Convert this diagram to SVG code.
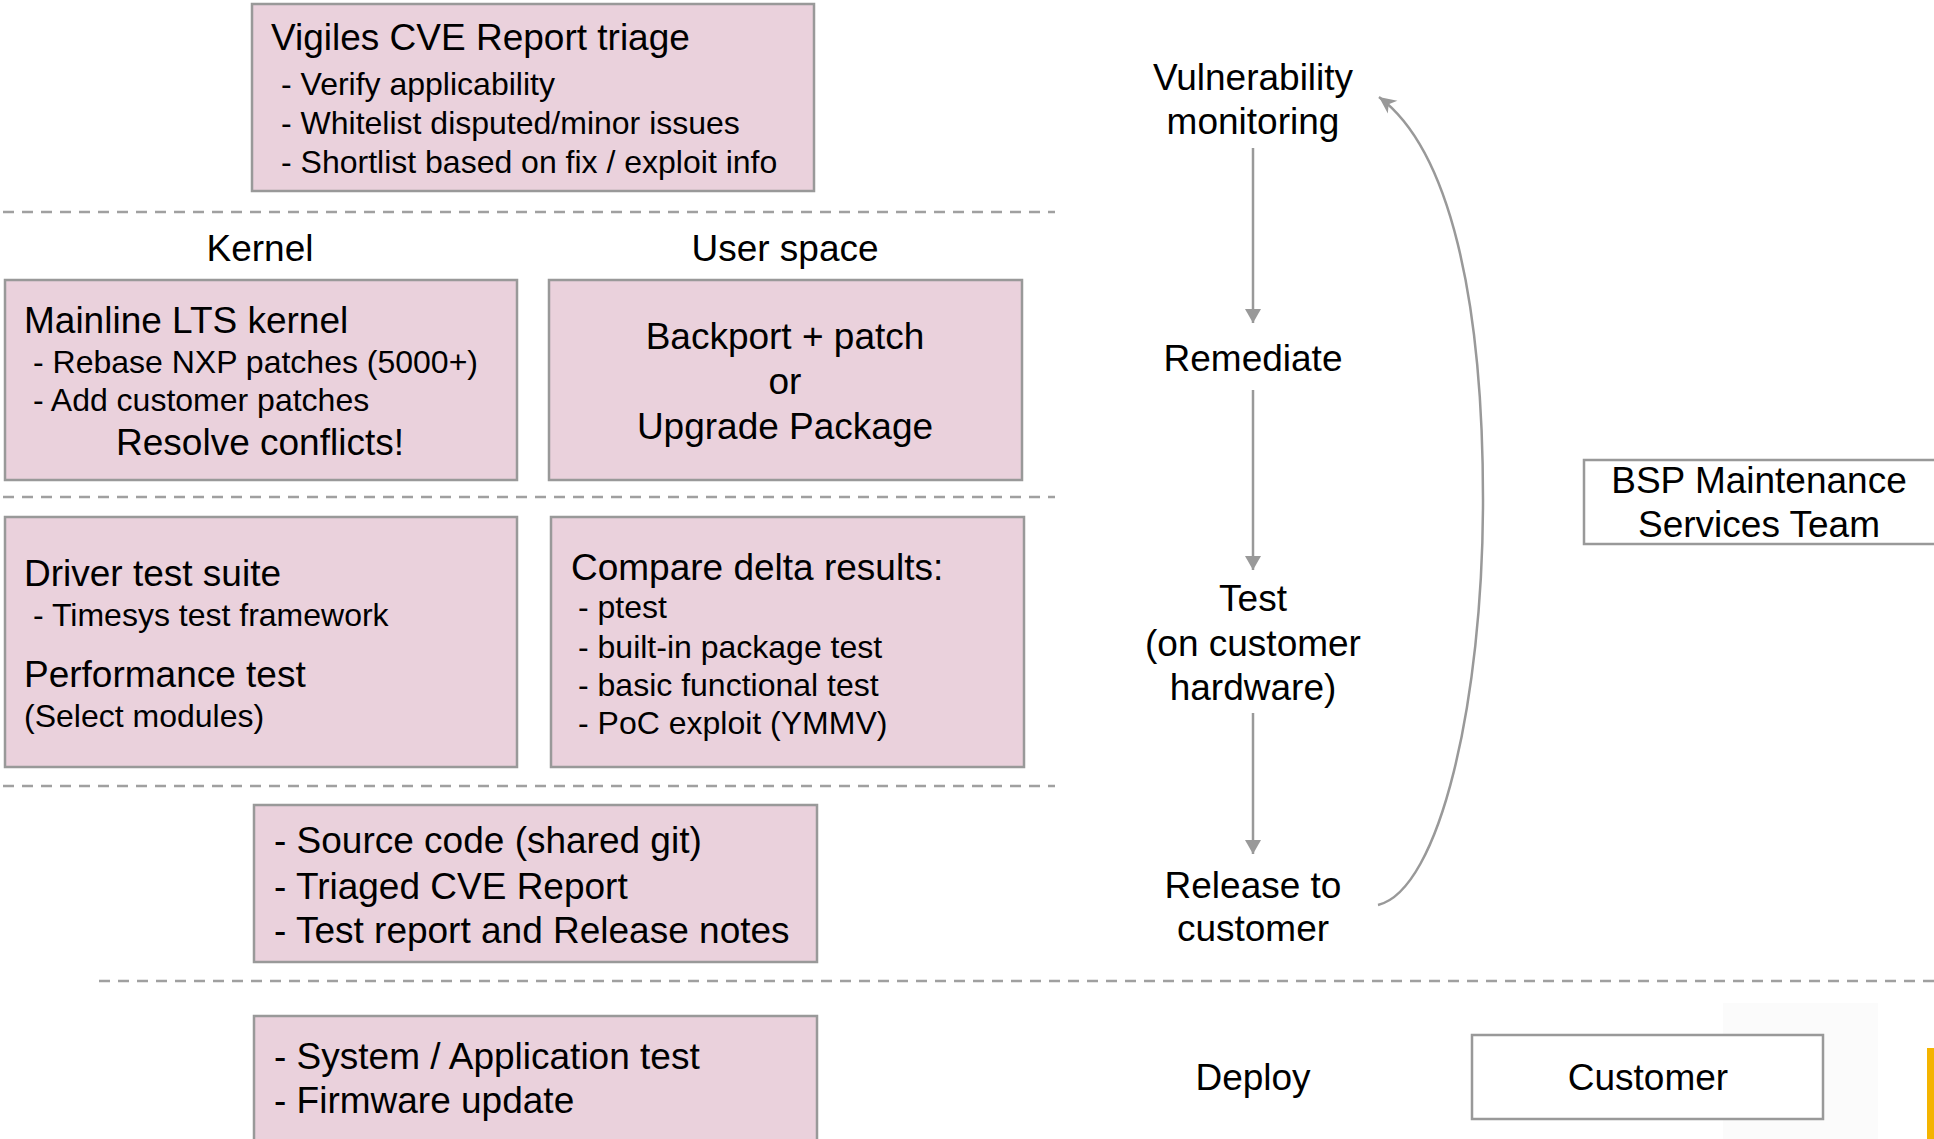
<svg xmlns="http://www.w3.org/2000/svg" width="1934" height="1139" viewBox="0 0 1934 1139">
<defs>
<style>
.box{fill:#ead1dc;stroke:#999;stroke-width:2.5}
.wbox{fill:#fff;stroke:#999;stroke-width:2.5}
.dash{stroke:#a0a0a0;stroke-width:2.5;stroke-dasharray:11 8;fill:none}
.conn{stroke:#999;stroke-width:2.5;fill:none}
text{font-family:"Liberation Sans",Arial,sans-serif;fill:#000}
.L{font-size:37px}
.S{font-size:32px}
.c{text-anchor:middle}
</style>
<marker id="tri" markerUnits="userSpaceOnUse" markerWidth="16" markerHeight="16" refX="14" refY="8" orient="auto">
<path d="M0,0 L14,8 L0,16 z" fill="#999"/>
</marker>
<marker id="open" markerUnits="userSpaceOnUse" markerWidth="20" markerHeight="20" refX="17" refY="9" orient="auto">
<path d="M0,1 L17,9 L0,17 L5,9 z" fill="#999"/>
</marker>
</defs>
<rect width="1934" height="1139" fill="#fff"/>
<rect x="1723" y="1003" width="155" height="136" fill="#fbfbfb"/>
<rect x="1927" y="1048" width="7" height="91" fill="#f4b400"/>

<g id="separators">
<line class="dash" x1="3" y1="212" x2="1055" y2="212"/>
<line class="dash" x1="3" y1="497" x2="1055" y2="497"/>
<line class="dash" x1="3" y1="786" x2="1055" y2="786"/>
<line class="dash" x1="99" y1="981" x2="1934" y2="981"/>
</g>

<g id="triage">
<rect class="box" x="252" y="4" width="562" height="187"/>
<text class="L" x="271" y="50">Vigiles CVE Report triage</text>
<text class="S" x="281" y="95">- Verify applicability</text>
<text class="S" x="281" y="134">- Whitelist disputed/minor issues</text>
<text class="S" x="281" y="173">- Shortlist based on fix / exploit info</text>
</g>

<g id="label-kernel"><text class="L c" x="260" y="261">Kernel</text></g>
<g id="label-userspace"><text class="L c" x="785" y="261">User space</text></g>

<g id="kernel">
<rect class="box" x="5" y="280" width="512" height="200"/>
<text class="L" x="24" y="333">Mainline LTS kernel</text>
<text class="S" x="33" y="373">- Rebase NXP patches (5000+)</text>
<text class="S" x="33" y="411">- Add customer patches</text>
<text class="L c" x="260" y="455">Resolve conflicts!</text>
</g>

<g id="userspace">
<rect class="box" x="549" y="280" width="473" height="200"/>
<text class="L c" x="785" y="349">Backport + patch</text>
<text class="L c" x="785" y="394">or</text>
<text class="L c" x="785" y="439">Upgrade Package</text>
</g>

<g id="driver-test">
<rect class="box" x="5" y="517" width="512" height="250"/>
<text class="L" x="24" y="586">Driver test suite</text>
<text class="S" x="33" y="626">- Timesys test framework</text>
<text class="L" x="24" y="687">Performance test</text>
<text class="S" x="24" y="727">(Select modules)</text>
</g>

<g id="compare">
<rect class="box" x="551" y="517" width="473" height="250"/>
<text class="L" x="571" y="580">Compare delta results:</text>
<text class="S" x="578" y="618">- ptest</text>
<text class="S" x="578" y="658">- built-in package test</text>
<text class="S" x="578" y="696">- basic functional test</text>
<text class="S" x="578" y="734">- PoC exploit (YMMV)</text>
</g>

<g id="release">
<rect class="box" x="254" y="805" width="563" height="157"/>
<text class="L" x="274" y="853">- Source code (shared git)</text>
<text class="L" x="274" y="899">- Triaged CVE Report</text>
<text class="L" x="274" y="943">- Test report and Release notes</text>
</g>

<g id="deploy-box">
<rect class="box" x="254" y="1016" width="563" height="140"/>
<text class="L" x="274" y="1069">- System / Application test</text>
<text class="L" x="274" y="1113">- Firmware update</text>
</g>

<g id="step-monitoring">
<text class="L c" x="1253" y="90">Vulnerability</text>
<text class="L c" x="1253" y="134">monitoring</text>
</g>
<g id="step-remediate"><text class="L c" x="1253" y="371">Remediate</text></g>
<g id="step-test">
<text class="L c" x="1253" y="611">Test</text>
<text class="L c" x="1253" y="656">(on customer</text>
<text class="L c" x="1253" y="700">hardware)</text>
</g>
<g id="step-release">
<text class="L c" x="1253" y="898">Release to</text>
<text class="L c" x="1253" y="941">customer</text>
</g>
<g id="step-deploy"><text class="L c" x="1253" y="1090">Deploy</text></g>

<g id="bsp-team">
<rect class="wbox" x="1584" y="460" width="360" height="84"/>
<text class="L c" x="1759" y="493">BSP Maintenance</text>
<text class="L c" x="1759" y="537">Services Team</text>
</g>

<g id="customer">
<rect class="wbox" x="1472" y="1035" width="351" height="84"/>
<text class="L c" x="1648" y="1090">Customer</text>
</g>

<g id="connectors">
<line class="conn" x1="1253" y1="148" x2="1253" y2="323" marker-end="url(#tri)"/>
<line class="conn" x1="1253" y1="390" x2="1253" y2="570" marker-end="url(#tri)"/>
<line class="conn" x1="1253" y1="713" x2="1253" y2="854" marker-end="url(#tri)"/>
<path class="conn" d="M1378,905 C1440,890 1483,700 1483,500 C1483,300 1450,150 1379,97" marker-end="url(#open)"/>
</g>
</svg>
